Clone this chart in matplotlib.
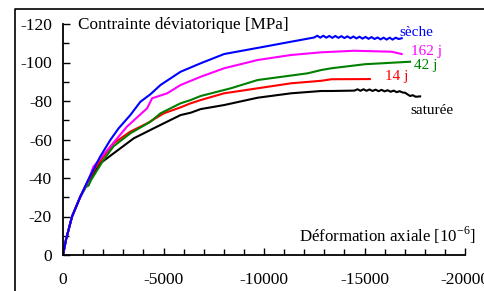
import matplotlib
matplotlib.use("Agg")
import matplotlib.pyplot as plt
from matplotlib.lines import Line2D
from matplotlib.ticker import MultipleLocator

# courbes contrainte / deformation
x_seche = [0, -150, -450, -850, -1250, -1850, -2350, -2767, -3350, -3850, -4350, -4850,
           -5850, -6850, -8017, -9850, -11350, -12500, -12650, -12800, -12950, -13100,
           -13250, -13400, -13550, -13700, -13850, -14000, -14150, -14300, -14450, -14600,
           -14750, -14900, -15050, -15200, -15350, -15500, -15650, -15800, -15950, -16100,
           -16250, -16400, -16550, -16700, -16850]
y_seche = [0, -8, -20, -30, -39, -51.1, -59.7, -65.8, -72.7, -79.6, -83.5, -88.3,
           -95.2, -99.6, -104.4, -107.9, -110.8, -113, -113.9, -112.9, -113.9, -112.9,
           -113.8, -112.8, -113.8, -112.8, -113.7, -112.7, -113.6, -112.6, -113.5, -112.5,
           -113.4, -112.4, -113.3, -112.3, -113.2, -112.2, -113.0, -112.0, -112.9, -111.9,
           -112.9, -111.9, -112.9, -112.2, -112.6]

x_162 = [0, -150, -450, -850, -1250, -1517, -2350, -3183, -4183, -4433, -5183, -5850,
         -6850, -8017, -9683, -11350, -12850, -14500, -16350, -16850]
y_162 = [0, -8, -20, -30, -38.5, -45.9, -56.3, -66.7, -76.2, -81.4, -84, -88.3,
         -92.6, -97, -101.3, -103.9, -105.3, -106.1, -105.6, -104.4]

x_42 = [0, -150, -450, -850, -1150, -1267, -1400, -2017, -2517, -3350, -4350, -4850,
        -5850, -6350, -6850, -8350, -9683, -12183, -12850, -13350, -15017, -17267]
y_42 = [0, -8, -20, -30, -35.5, -36, -39, -49.4, -56.5, -63.2, -69.2, -73.6,
        -78.8, -80.5, -82.6, -86.6, -90.9, -94.4, -96.1, -97, -99.1, -100.4]

x_14 = [0, -150, -450, -850, -1250, -1600, -2017, -2517, -3350, -4183, -5017, -5850,
        -6350, -6850, -8017, -9683, -11350, -12850, -13350, -15267]
y_14 = [0, -8, -20, -30, -38.5, -45, -51.1, -58, -64.1, -68.4, -73.6, -76.7,
        -78.8, -80.5, -84, -86.6, -89.2, -90.5, -91.3, -91.4]

x_sat = [0, -150, -450, -850, -1250, -1850, -2517, -3517, -4683, -5850, -6350,
         -6850, -8017, -9683, -11350, -12850, -13350, -14500, -14650, -14800, -14950,
         -15100, -15250, -15400, -15550, -15700, -15850, -16000, -16150, -16300, -16450,
         -16600, -16750, -16900, -17017, -17267, -17400, -17550, -17767]
y_sat = [0, -8, -20, -30, -38, -47.6, -52.8, -60.6, -66.7, -72.7, -73.9,
         -75.8, -77.9, -81.7, -84, -85.2, -85.2, -85.4, -86.1, -85.3, -86.1,
         -85.3, -86.0, -85.2, -85.9, -85.1, -85.8, -85.0, -85.6, -84.8, -85.4,
         -84.6, -85.1, -84.4, -84.3, -82.6, -83.0, -82.2, -82.4]

series = [
    (x_seche, y_seche, "#0000ff", "sèche", 399, 32),
    (x_162, y_162, "#ff00ff", "162 j", 411, 51),
    (x_42, y_42, "#008000", "42 j", 414, 66),
    (x_14, y_14, "#ff0000", "14 j", 385, 77),
    (x_sat, y_sat, "#000000", "saturée", 410, 110),
]

plt.rcParams['font.family'] = ['Liberation Serif', 'DejaVu Serif']

W, H = 485, 291
fig = plt.figure(figsize=(W / 100, H / 100), dpi=100)
ax = fig.add_axes([63 / W, 1 - 255 / H, (465 - 63) / W, (255 - 24) / H])

for xs, ys, c, lab, px, py in series[::-1]:
    ax.plot(xs, ys, color=c, lw=1.5, solid_joinstyle='round')

for xs, ys, c, lab, px, py in series:
    fig.text(px / W, 1 - py / H, lab, color=c, fontsize=11, ha='left', va='center')

ax.set_xlim(0, -20000)
ax.set_ylim(0, -120)
ax.xaxis.set_minor_locator(MultipleLocator(1000))
ax.yaxis.set_minor_locator(MultipleLocator(10))
ax.set_xticks([0, -5000, -10000, -15000, -20000])
ax.set_xticklabels(['0', '-5000', '-10000', '-15000', '-20000'])
ax.set_yticks([0, -20, -40, -60, -80, -100, -120])
ax.set_yticklabels(['0', '-20', '-40', '-60', '-80', '-100', '-120'])

ax.tick_params(axis='both', which='both', direction='in', labelsize=12.5, width=1)
ax.tick_params(axis='x', which='major', length=5, pad=12)
ax.tick_params(axis='x', which='minor', length=4)
ax.tick_params(axis='y', which='major', length=5, pad=8)
ax.tick_params(axis='y', which='minor', length=4)

for s in ['top', 'right']:
    ax.spines[s].set_visible(False)
for s in ['left', 'bottom']:
    ax.spines[s].set_linewidth(1.3)

fig.text(78 / W, 1 - 25 / H, "Contrainte déviatorique [MPa]", fontsize=12.3,
         ha='left', va='center')
fig.text(476 / W, 1 - 235 / H, r"Déformation axiale [10$^{\mathregular{-6}}$]",
         fontsize=12.2, ha='right', va='center')

# cadre autour de la figure
fig.add_artist(Line2D([15 / W, 15 / W, 1.02], [-0.02, 1 - 9 / H, 1 - 9 / H],
                      transform=fig.transFigure, color='black', lw=1.2))

fig.savefig("out.png", dpi=100)
